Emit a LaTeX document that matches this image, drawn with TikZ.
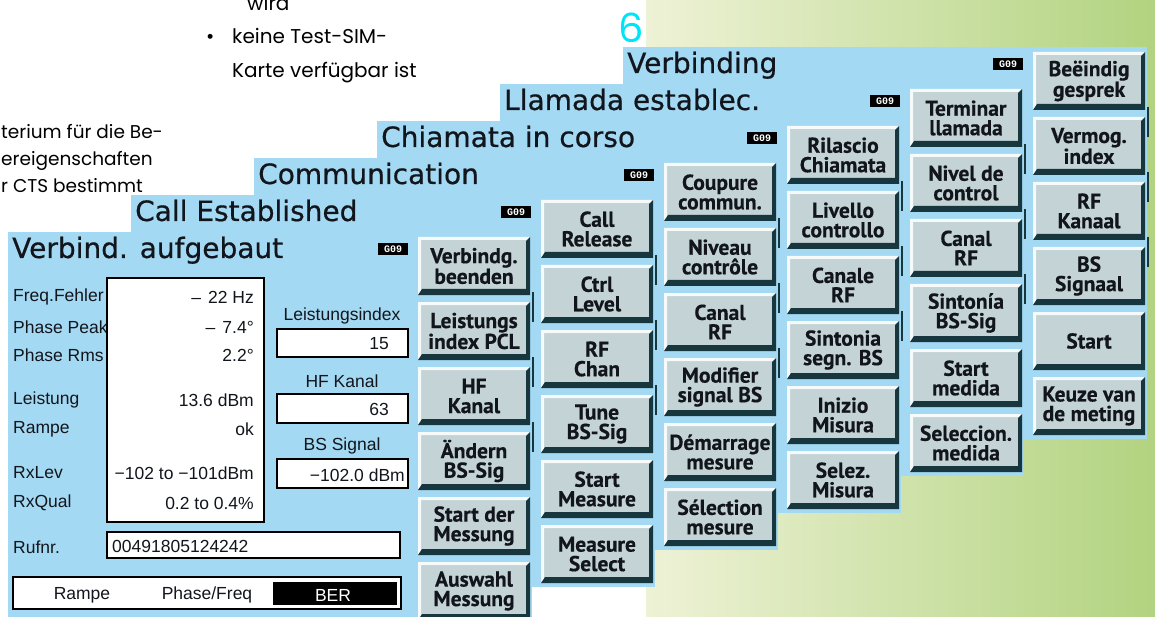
\documentclass[tikz,border=0pt]{standalone}
\usepackage{fontspec}
\setmainfont{Liberation Sans}
\newfontfamily\titlefont[FakeBold=0.6]{DejaVu Sans}
\newfontfamily\btnfont[FakeBold=0.4]{PT Sans}
\newfontfamily\iconfont{Liberation Mono}
\newfontfamily\pagefont{Poppins}
\usetikzlibrary{calc}

\definecolor{screenblue}{RGB}{164,217,243}
\definecolor{btnface}{RGB}{195,211,214}
\definecolor{btnshade}{RGB}{24,54,62}
\definecolor{btnlight}{RGB}{246,250,250}
\definecolor{pageleft}{RGB}{238,242,214}
\definecolor{pageright}{RGB}{178,211,128}
\definecolor{numcyan}{RGB}{0,228,250}
\definecolor{ink}{RGB}{18,22,28}

\tikzset{
  screentitle/.style={anchor=base west, inner sep=0pt, text=ink},
  gicon/.style={fill=black, text=white, inner sep=0pt, minimum width=30pt, minimum height=12pt,
    font=\iconfont\bfseries\fontsize{10}{10}\selectfont},
  btn/.style={rectangle, fill=btnface, minimum width=112pt, minimum height=58pt, inner sep=0pt,
    align=center, text=ink, font=\btnfont\bfseries\fontsize{21.5}{19.5}\selectfont,
    path picture={
      \fill[btnlight] (path picture bounding box.south west) -- (path picture bounding box.north west)
        -- (path picture bounding box.north east) -- ++(-3,3)
        -- ($(path picture bounding box.north west)+(3,3)$)
        -- ($(path picture bounding box.south west)+(3,-3)$) -- cycle;
      \fill[btnshade] (path picture bounding box.south west) -- (path picture bounding box.south east)
        -- (path picture bounding box.north east) -- ++(-4,4)
        -- ($(path picture bounding box.south east)+(-4,-6)$)
        -- ($(path picture bounding box.south west)+(4,-6)$) -- cycle;
    }},
  lbl/.style={anchor=west, inner sep=0pt, text=ink, font=\fontsize{17.5}{17.5}\selectfont},
  val/.style={anchor=east, inner sep=0pt, text=ink, font=\fontsize{17.5}{17.5}\selectfont},
  valbox/.style={fill=white, draw=black, line width=1.6pt},
  edgeline/.style={draw=btnshade, line width=1.4pt},
  pagetext/.style={anchor=base west, inner sep=0pt, text=black, font=\pagefont\fontsize{20}{20}\selectfont},
}

% one screen: index, title, title size
\newcommand{\screenpanel}[3]{%
  \fill[screenblue] (8+123*#1,232-37*#1) rectangle ++(524,392);
  \node[screentitle, font=\titlefont\fontsize{#3}{#3}\selectfont] (title-#1) at (12+123*#1,258-37*#1) {#2};
  \node[gicon] (icon-#1) at (393+123*#1,249-37*#1) {G09};
  \foreach \k in {0,1,2}
    \draw[edgeline] (533+123*#1,292-37*#1+65*\k) -- ++(0,30);
}
% soft keys of one screen
\newcommand{\panelbuttons}[2]{%
  \foreach \lbl [count=\k from 0] in {#2}
    \node[btn] (btn-#1-\k) at (474+123*#1,266-37*#1+65*\k) {\lbl};
}

\begin{document}
\begin{tikzpicture}[x=1pt,y=-1pt]
  \useasboundingbox (0,0) rectangle (1155,617);
  \clip (0,0) rectangle (1155,617);
  \fill[white] (0,0) rectangle (1155,617);
  \shade[left color=pageleft, right color=pageright] (646,0) rectangle (1155,617);

  % screens, back to front
  \screenpanel{5}{Verbinding}{28}
  \panelbuttons{5}{{Beëindig\\gesprek},{Vermog.\\index},{RF\\Kanaal},{BS\\Signaal},{Start},{Keuze van\\de meting}}
  \screenpanel{4}{Llamada establec.}{28}
  \panelbuttons{4}{{Terminar\\llamada},{Nivel de\\control},{Canal\\RF},{Sintonía\\BS-Sig},{Start\\medida},{Seleccion.\\medida}}
  \screenpanel{3}{Chiamata in corso}{28}
  \panelbuttons{3}{{Rilascio\\Chiamata},{Livello\\controllo},{Canale\\RF},{Sintonia\\segn. BS},{Inizio\\Misura},{Selez.\\Misura}}
  \screenpanel{2}{Communication}{28}
  \panelbuttons{2}{{Coupure\\commun.},{Niveau\\contrôle},{Canal\\RF},{Modifier\\signal BS},{Démarrage\\mesure},{Sélection\\mesure}}
  \screenpanel{1}{Call Established}{28}
  \panelbuttons{1}{{Call\\Release},{Ctrl\\Level},{RF\\Chan},{Tune\\BS-Sig},{Start\\Measure},{Measure\\Select}}
  \screenpanel{0}{Verbind. aufgebaut}{28}
  \panelbuttons{0}{{Verbindg.\\beenden},{Leistungs\\index PCL},{HF\\Kanal},{Ändern\\BS-Sig},{Start der\\Messung},{Auswahl\\Messung}}

  % front screen readings
  \node[lbl] (lab-freq) at (13,297) {Freq.Fehler};
  \node[lbl] (lab-peak) at (13,327) {Phase Peak};
  \node[lbl] (lab-rms) at (13,355) {Phase Rms};
  \node[lbl] (lab-pow) at (13,400) {Leistung};
  \node[lbl] (lab-ramp) at (13,429) {Rampe};
  \node[lbl] (lab-lev) at (13,473) {RxLev};
  \node[lbl] (lab-qual) at (13,503) {RxQual};
  \node[lbl] (lab-call) at (13,547) {Rufnr.};
  \draw[valbox] (107,278) rectangle (264,522);
  \node[val] (v-freq) at (254,297) {–\hspace{7pt}22 Hz};
  \node[val] (v-peak) at (254,327) {–\hspace{7pt}7.4°};
  \node[val] (v-rms) at (254,355) {2.2°};
  \node[val] (v-pow) at (254,400) {13.6 dBm};
  \node[val] (v-ramp) at (254,429) {ok};
  \node[val] (v-lev) at (254,473) {−102 to −101dBm};
  \node[val] (v-qual) at (254,503) {0.2 to 0.4\%};

  \node[lbl, anchor=center] (lab-pcl) at (342,316) {Leistungsindex};
  \draw[valbox] (277,329) rectangle (408,357);
  \node[val] (v-pcl) at (389,344) {15};
  \node[lbl, anchor=center] (lab-hf) at (342,381) {HF Kanal};
  \draw[valbox] (277,394) rectangle (408,423);
  \node[val] (v-hf) at (389,409) {63};
  \node[lbl, anchor=center] (lab-bs) at (342,446) {BS Signal};
  \draw[valbox] (277,459) rectangle (408,488);
  \node[val] (v-bs) at (405,475) {−102.0 dBm};

  \draw[valbox] (107,532) rectangle (400,558);
  \node[lbl] (v-call) at (112,546) {00491805124242};

  \draw[valbox] (13,577) rectangle (401,609);
  \fill[black] (273,582) rectangle (397,605);
  \node[lbl, anchor=center] (tab-ramp) at (82,595) {Rampe};
  \node[lbl, anchor=center] (tab-phase) at (207,595) {Phase/Freq};
  \node[lbl, anchor=center, text=white] (tab-ber) at (333,595) {BER};

  % page text around the picture
  \node[pagetext] (wird) at (247,11) {wird};
  \node[pagetext] (bullet) at (206,44) {•};
  \node[pagetext] (keine) at (232,44) {keine Test-SIM-};
  \node[pagetext] (karte) at (232,78) {Karte verfügbar ist};
  \node[pagetext, font=\pagefont\fontsize{18.5}{18.5}\selectfont] (crit1) at (1,139) {terium für die Be-};
  \node[pagetext, font=\pagefont\fontsize{18.5}{18.5}\selectfont] (crit2) at (1,166) {ereigenschaften};
  \node[pagetext, font=\pagefont\fontsize{18.5}{18.5}\selectfont] (crit3) at (1,193) {r CTS bestimmt};
  \node[inner sep=0pt, text=numcyan, font=\pagefont\fontsize{40}{40}\selectfont] (chapter) at (631,28) {6};
\end{tikzpicture}
\end{document}
